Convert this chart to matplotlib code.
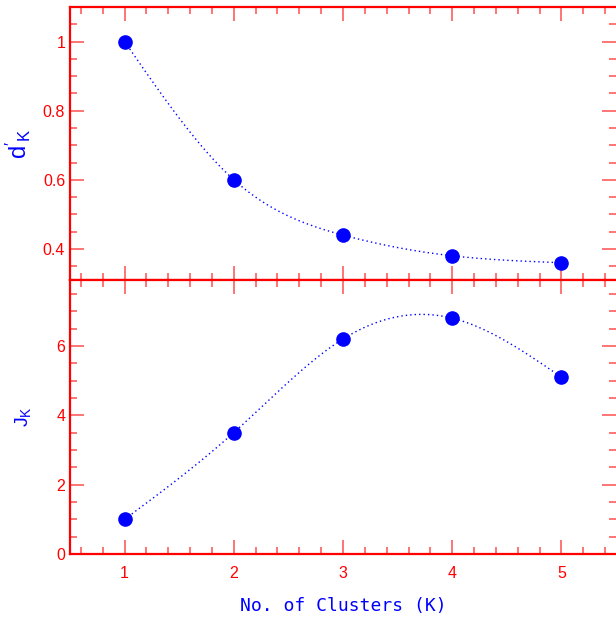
import numpy as np
import matplotlib
matplotlib.use("Agg")
import matplotlib.pyplot as plt
from matplotlib.ticker import MultipleLocator

plt.rcParams["font.family"] = ["Liberation Sans", "DejaVu Sans"]
plt.rcParams["mathtext.fontset"] = "custom"
plt.rcParams["mathtext.rm"] = "Liberation Sans"

k = np.array([1, 2, 3, 4, 5])
d_k = np.array([1.0, 0.6, 0.44, 0.38, 0.36])
j_k = np.array([1.0, 3.5, 6.2, 6.8, 5.1])


def spline(x, y, n=200):
    # natural cubic spline, only used to draw the dotted guide line
    h = np.diff(x).astype(float)
    m = len(x)
    A = np.zeros((m, m))
    r = np.zeros(m)
    A[0, 0] = A[-1, -1] = 1
    for i in range(1, m - 1):
        A[i, i - 1] = h[i - 1]
        A[i, i] = 2 * (h[i - 1] + h[i])
        A[i, i + 1] = h[i]
        r[i] = 6 * ((y[i + 1] - y[i]) / h[i] - (y[i] - y[i - 1]) / h[i - 1])
    M = np.linalg.solve(A, r)
    xs = np.linspace(x[0], x[-1], n)
    idx = np.clip(np.searchsorted(x, xs) - 1, 0, m - 2)
    x0, x1 = x[idx], x[idx + 1]
    hh = h[idx]
    ys = (M[idx] * (x1 - xs) ** 3 / (6 * hh) + M[idx + 1] * (xs - x0) ** 3 / (6 * hh)
          + (y[idx] / hh - M[idx] * hh / 6) * (x1 - xs)
          + (y[idx + 1] / hh - M[idx + 1] * hh / 6) * (xs - x0))
    return xs, ys


red = "#ff0000"
tick_red = "#ff5050"
blue = "#0000ff"

fig = plt.figure(figsize=(6.16, 6.17), dpi=100)
ax1 = fig.add_axes([70 / 616, 1 - 280 / 617, 546 / 616, 273 / 617])
ax2 = fig.add_axes([70 / 616, 1 - 554 / 617, 546 / 616, 274 / 617], sharex=ax1)

for ax, y in ((ax1, d_k), (ax2, j_k)):
    xs, ys = spline(k, y)
    ax.plot(xs, ys, ls=(0, (1, 2.2)), color=blue, lw=1.0)
    ax.plot(k, y, "o", color=blue, ms=9.5)
    for s in ax.spines.values():
        s.set_color(red)
        s.set_linewidth(1.6)
    ax.spines["right"].set_visible(False)
    ax.tick_params(which="both", direction="in", top=True, right=True,
                   colors=tick_red, labelcolor=red, labelsize=11.5, width=1.1)
    ax.tick_params(which="major", length=10)
    ax.tick_params(which="minor", length=5)
    ax.xaxis.set_major_locator(MultipleLocator(1))
    ax.xaxis.set_minor_locator(MultipleLocator(0.2))

ax1.set_xlim(0.5, 5.5)
ax1.set_ylim(0.31, 1.1)
ax1.yaxis.set_major_locator(MultipleLocator(0.2))
ax1.yaxis.set_minor_locator(MultipleLocator(0.05))
ax1.set_yticks([0.4, 0.6, 0.8, 1.0])
ax1.set_yticklabels(["0.4", "0.6", "0.8", "1"])
ax1.tick_params(labelbottom=False)

ax2.set_ylim(0, 7.9)
ax2.yaxis.set_major_locator(MultipleLocator(2))
ax2.yaxis.set_minor_locator(MultipleLocator(0.5))
ax2.tick_params(axis="x", pad=9)

ax1.set_ylabel(r"$\mathregular{d'_K}$", color=blue, fontsize=17)
ax2.set_ylabel(r"$\mathregular{J_K}$", color=blue, fontsize=14)
ax1.yaxis.set_label_coords(-0.068, 0.5)
ax2.yaxis.set_label_coords(-0.068, 0.5)
ax2.set_xlabel("No. of Clusters (K)", color=blue, fontsize=13,
               family="DejaVu Sans Mono", labelpad=11)

fig.savefig("out.png", dpi=100)
